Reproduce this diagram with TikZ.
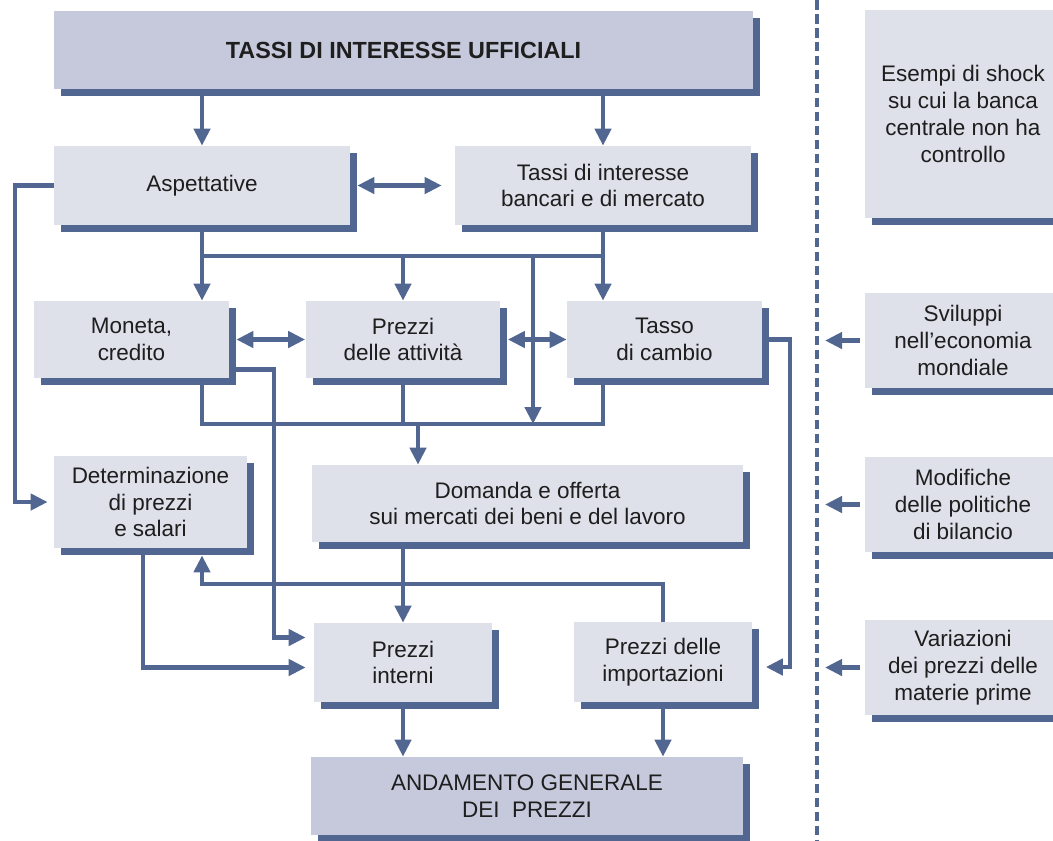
\documentclass[tikz,border=0pt]{standalone}
\usepackage{fontspec}
\setmainfont{Liberation Sans}
\usetikzlibrary{arrows.meta, shadows}
\definecolor{boxfill}{HTML}{DEE0EA}
\definecolor{boxdark}{HTML}{C5C9DB}
\definecolor{linecol}{HTML}{526692}
\definecolor{textcol}{HTML}{1E1E1E}
\tikzset{
    box/.style={fill=boxfill, text=textcol, inner sep=0pt, align=center,
        font=\fontsize{12.8}{15.2}\selectfont,
        drop shadow={shadow xshift=0.14cm, shadow yshift=-0.14cm, fill=linecol, opacity=1}},
    darkbox/.style={box, fill=boxdark},
    conn/.style={draw=linecol, line width=0.085cm},
    arr/.style={conn, -{Triangle[length=0.34cm,width=0.32cm]}},
    dbl/.style={conn, {Triangle[length=0.34cm,width=0.32cm]}-{Triangle[length=0.34cm,width=0.32cm]}},
}

\begin{document}
\begin{tikzpicture}[x=0.02cm, y=-0.02cm]
    \useasboundingbox (0,0) rectangle (1053,840);
    \clip (0,0) rectangle (1053,840);
    % transmission boxes
    \node[darkbox, minimum width=13.98cm, minimum height=1.56cm,
        font=\fontsize{13.3}{16}\selectfont\bfseries] (ufficiali) at (403.5,50) {TASSI DI INTERESSE UFFICIALI};
    \node[box, minimum width=5.92cm, minimum height=1.58cm] (asp) at (202,185.5) {Aspettative};
    \node[box, minimum width=5.92cm, minimum height=1.58cm] (tassi) at (603,185.5) {Tassi di interesse\\bancari e di mercato};
    \node[box, minimum width=3.9cm, minimum height=1.54cm] (moneta) at (131.5,339.5) {Moneta,\\credito};
    \node[box, minimum width=3.9cm, minimum height=1.54cm] (attivita) at (403,339.5) {Prezzi\\delle attività};
    \node[box, minimum width=3.9cm, minimum height=1.54cm] (cambio) at (664.5,339.5) {Tasso\\di cambio};
    \node[box, minimum width=3.86cm, minimum height=1.84cm] (determ) at (150.5,502) {Determinazione\\di prezzi\\e salari};
    \node[box, minimum width=8.62cm, minimum height=1.54cm] (domanda) at (527.5,503.5) {Domanda e offerta\\sui mercati dei beni e del lavoro};
    \node[box, minimum width=3.56cm, minimum height=1.58cm] (interni) at (403,662.5) {Prezzi\\interni};
    \node[box, minimum width=3.58cm, minimum height=1.6cm] (import) at (663,662) {Prezzi delle\\importazioni};
    \node[darkbox, minimum width=8.64cm, minimum height=1.56cm] (andamento) at (527,796) {ANDAMENTO GENERALE\\DEI\ \ PREZZI};
    % shocks
    \node[box, minimum width=3.92cm, minimum height=4.16cm] (esempi) at (963,114) {Esempi di shock\\su cui la banca\\centrale non ha\\controllo};
    \node[box, minimum width=3.92cm, minimum height=1.9cm] (sviluppi) at (963,340.5) {Sviluppi\\nell’economia\\mondiale};
    \node[box, minimum width=3.92cm, minimum height=1.9cm] (modifiche) at (963,504.5) {Modifiche\\delle politiche\\di bilancio};
    \node[box, minimum width=3.92cm, minimum height=1.9cm] (variazioni) at (963,667.5) {Variazioni\\dei prezzi delle\\materie prime};

    \coordinate (busA) at (403,256);
    \coordinate (busB) at (418,424);
    \coordinate (rail) at (533,256);
    \coordinate (fbk) at (202,584);
    \coordinate (divtop) at (817,0);
    \coordinate (divbot) at (817,840);

    \draw[linecol, line width=0.075cm, dash pattern=on 0.19cm off 0.09cm] (divtop) -- (divbot);

    \draw[arr] (ufficiali.south -| asp.north) -- (asp.north);
    \draw[arr] (ufficiali.south -| tassi.north) -- (tassi.north);
    \draw[dbl, shorten >=0.26cm] ([xshift=0.14cm]asp.east) -- (tassi.west);
    \draw[arr, shorten >=0.12cm] (asp.west) -- ++(-39,0) |- (determ.west);
    % first bus
    \draw[arr] (asp.south) -- (moneta.north -| asp.south);
    \draw[arr] (tassi.south) -- (cambio.north -| tassi.south);
    \draw[conn] (asp.south |- busA) -- (tassi.south |- busA);
    \draw[arr] (busA) -- (attivita.north);
    \draw[arr] (rail) -- (rail |- busB);
    \draw[dbl] ([xshift=0.14cm]moneta.east) -- (attivita.west);
    \draw[dbl] ([xshift=0.14cm]attivita.east) -- (cambio.west);
    % second bus
    \draw[conn] (moneta.south -| asp.south) |- (busB) -| (cambio.south -| tassi.south);
    \draw[conn] (attivita.south) -- (attivita.south |- busB);
    \draw[arr] (busB) -- (busB |- domanda.north);
    % side lines
    \draw[arr, shorten >=0.16cm] ([yshift=-0.6cm]moneta.east) -- ++(45,0) |- ([yshift=0.5cm]interni.west);
    \draw[arr, shorten >=0.16cm] ([xshift=-0.15cm]determ.south) |- ([yshift=-0.1cm]interni.west);
    \draw[arr, shorten >=0.14cm] (import.north) |- (fbk) -- (fbk |- determ.south);
    \draw[arr, shorten >=0.26cm] (cambio.east) -- ++(28,0) |- ([yshift=-0.1cm]import.east);
    % down to the prices
    \draw[arr] (domanda.south -| interni.north) -- (interni.north);
    \draw[arr] (interni.south) -- (andamento.north -| interni.south);
    \draw[arr] (import.south) -- (andamento.north -| import.south);
    % external shocks
    \foreach \shk in {sviluppi, modifiche, variazioni}
        \draw[arr, shorten <=0.1cm, shorten >=0.16cm] (\shk.west) -- (\shk.west -| divtop);
\end{tikzpicture}
\end{document}
